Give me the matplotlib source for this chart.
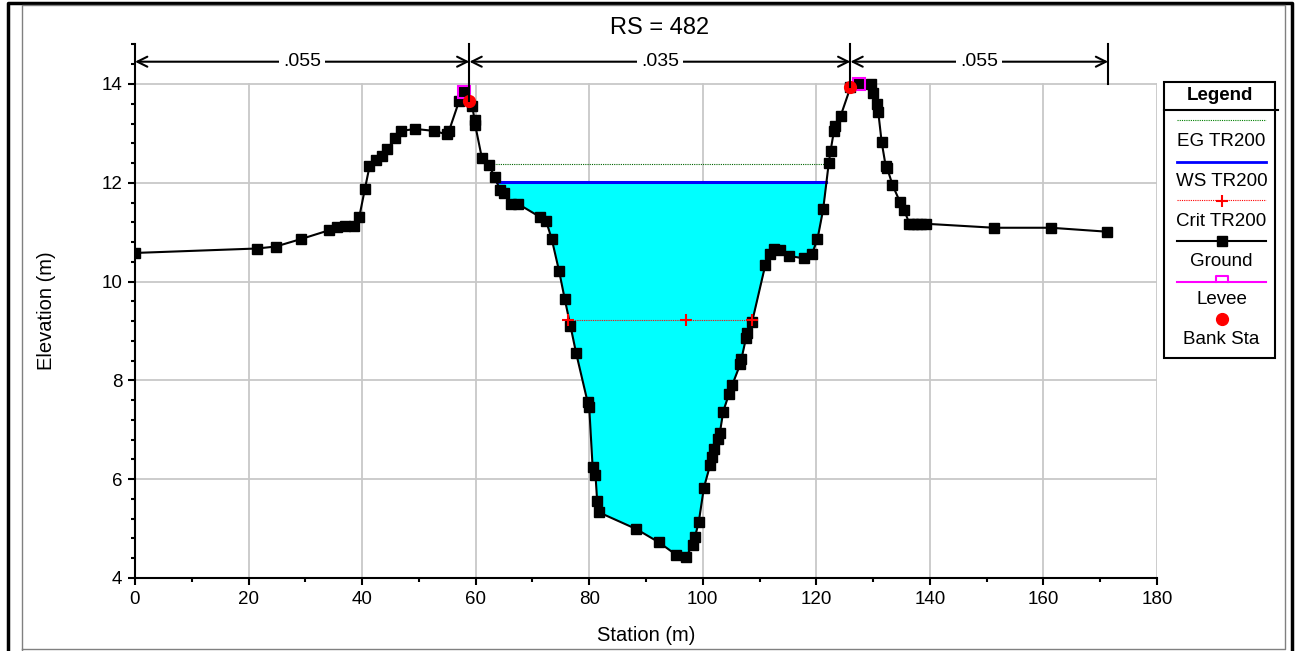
import numpy as np
import matplotlib
matplotlib.use("Agg")
import matplotlib.pyplot as plt
from matplotlib.ticker import MultipleLocator

plt.rcParams['font.family'] = ['Liberation Sans', 'DejaVu Sans']

# --- dados da seção (RS = 482) ---
estacao = [0.0, 21.5, 24.8, 29.2, 34.2, 35.5, 37.0, 38.6, 39.5, 40.5, 41.3, 42.4,
           43.5, 44.4, 45.8, 46.8, 49.4, 52.7, 54.9, 55.3, 57.1, 58.0, 59.4, 59.8,
           59.9, 61.1, 62.3, 63.4, 64.3, 65.0, 66.3, 67.5, 71.3, 72.4, 73.4, 74.7,
           75.7, 76.7, 77.7, 79.7, 80.0, 80.6, 81.1, 81.4, 81.7, 88.3, 92.3, 95.3,
           97.0, 98.3, 98.6, 99.3, 100.2, 101.3, 101.7, 102.0, 102.7, 103.0, 103.6,
           104.6, 105.2, 106.6, 106.8, 107.6, 107.8, 108.7, 111.0, 111.8, 112.6,
           113.6, 115.2, 117.8, 119.2, 120.2, 121.2, 122.2, 122.5, 123.1, 123.3,
           124.3, 126.0, 127.6, 129.6, 129.9, 130.6, 130.9, 131.5, 132.2, 132.5,
           133.4, 134.7, 135.5, 136.4, 137.0, 137.7, 138.5, 139.4, 151.3, 161.3, 171.2]
cota = [10.58, 10.67, 10.71, 10.86, 11.04, 11.10, 11.13, 11.13, 11.31, 11.88, 12.33, 12.46,
        12.54, 12.68, 12.90, 13.05, 13.09, 13.05, 12.98, 13.05, 13.66, 13.84, 13.55, 13.28,
        13.18, 12.50, 12.36, 12.11, 11.85, 11.80, 11.57, 11.57, 11.31, 11.23, 10.86, 10.21,
        9.64, 9.10, 8.55, 7.57, 7.46, 6.24, 6.09, 5.56, 5.33, 4.99, 4.72, 4.47,
        4.43, 4.67, 4.82, 5.14, 5.83, 6.29, 6.44, 6.61, 6.81, 6.93, 7.37,
        7.72, 7.91, 8.33, 8.43, 8.85, 8.95, 9.19, 10.33, 10.56, 10.67,
        10.64, 10.52, 10.47, 10.55, 10.86, 11.46, 12.41, 12.64, 13.05, 13.15,
        13.36, 13.93, 14.01, 14.00, 13.81, 13.60, 13.44, 12.83, 12.35, 12.29,
        11.96, 11.62, 11.44, 11.17, 11.17, 11.17, 11.17, 11.17, 11.09, 11.09, 11.01]

ws = 12.02          # WS TR200
eg = 12.39          # EG TR200
crit = 9.22         # Crit TR200
crit_est = [76.3, 97.0, 108.6]
dique_x = [58.0, 127.6]
dique_y = [13.84, 14.01]
margens = [58.9, 126.0]   # Bank Sta
manning_lim = [0.0, 58.9, 126.0, 171.4]
manning_n = ['.055', '.035', '.055']

estacao = np.array(estacao)
cota = np.array(cota)


def cruzamento(nivel, x0, x1):
    # acha onde o terreno cruza o nivel no canal principal
    m = (estacao >= x0) & (estacao <= x1)
    xs, zs = estacao[m], cota[m]
    pts = []
    for i in range(len(xs) - 1):
        if (zs[i] - nivel) * (zs[i + 1] - nivel) < 0:
            t = (nivel - zs[i]) / (zs[i + 1] - zs[i])
            pts.append(xs[i] + t * (xs[i + 1] - xs[i]))
    return pts[0], pts[-1]


fig = plt.figure(figsize=(12.96, 6.51), dpi=100)
ax = fig.add_axes([135 / 1296, 1 - 578 / 651, (1157 - 135) / 1296, (578 - 44) / 651])
ax.set_xlim(0, 180)
ax.set_ylim(4, 14 + 40 / 49.4)

# grade so ate 14 m
for gx in range(20, 181, 20):
    ax.plot([gx, gx], [4, 14], color='#c8c8c8', lw=1.3, zorder=0)
for gy in range(6, 15, 2):
    ax.plot([0, 180], [gy, gy], color='#c8c8c8', lw=1.3, zorder=0)

# agua
canal = (estacao >= 59) & (estacao <= 126)
ax.fill_between(estacao[canal], cota[canal], ws, where=cota[canal] <= ws,
                interpolate=True, color='#00ffff', lw=0, zorder=1)

a, b = cruzamento(eg, 59, 126)
ax.plot([a, b], [eg, eg], color='#006400', lw=0.8, ls=(0, (1, 1)), zorder=2)
a, b = cruzamento(ws, 59, 126)
ax.plot([a, b], [ws, ws], color='#0000ff', lw=2.2, zorder=3)
ax.plot([crit_est[0], crit_est[-1]], [crit, crit], color='red', lw=0.8, ls=(0, (1, 1)), zorder=3)
ax.plot(crit_est, [crit] * len(crit_est), ls='none', marker='+', color='red', ms=8, mew=1.5, zorder=6)

ax.plot(estacao, cota, color='black', lw=1.5, marker='s', ms=6.5, zorder=4)
ax.plot(dique_x, dique_y, ls='none', marker='s', ms=9, mfc='none', mec='#ff00ff', mew=1.5, zorder=5)
ax.plot(margens, np.interp(margens, estacao, cota), ls='none', marker='o', ms=8.5,
        color='red', zorder=6)

# Manning n no topo
ya = 14 + 22.3 / 49.4
topo = ax.get_ylim()[1]
for i, xl in enumerate(manning_lim):
    if i > 0:
        ax.plot([xl, xl], [topo, np.interp(xl, estacao, cota) if xl < 170 else 14.0],
                color='black', lw=1.5, zorder=6, clip_on=False)
for i in range(len(manning_n)):
    ax.annotate('', xy=(manning_lim[i], ya), xytext=(manning_lim[i + 1], ya),
                arrowprops=dict(arrowstyle='<->', color='black', lw=1.5,
                                shrinkA=0, shrinkB=0, mutation_scale=18))
    ax.text((manning_lim[i] + manning_lim[i + 1]) / 2, ya, manning_n[i], fontsize=14,
            ha='center', va='center', zorder=7,
            bbox=dict(facecolor='white', edgecolor='none', pad=3))

for s in ['top', 'right']:
    ax.spines[s].set_visible(False)
ax.spines['left'].set_linewidth(1.5)
ax.spines['bottom'].set_linewidth(1.5)
ax.xaxis.set_major_locator(MultipleLocator(20))
ax.xaxis.set_minor_locator(MultipleLocator(10))
ax.yaxis.set_major_locator(MultipleLocator(2))
ax.yaxis.set_minor_locator(MultipleLocator(0.4))
ax.set_yticks([4, 6, 8, 10, 12, 14])
ax.tick_params(which='major', direction='out', length=5, width=1.5, labelsize=13.5, pad=4)
ax.tick_params(which='minor', direction='out', length=3, width=1.5)
ax.set_xlabel('Station (m)', fontsize=14.5, labelpad=13)
ax.set_ylabel('Elevation (m)', fontsize=14.5, labelpad=33)

fig.text(660 / 1296, 1 - 28 / 651, 'RS = 482', fontsize=17, ha='center', va='center')

# camada de sobreposicao: moldura e legenda
ov = fig.add_axes([0, 0, 1, 1], zorder=10)
ov.set_xlim(0, 1296)
ov.set_ylim(651, 0)
ov.axis('off')
ov.patch.set_alpha(0)
ov.plot([8, 8, 1292, 1292], [651, 3, 3, 651], color='black', lw=2.5)
ov.plot([22, 22, 1285, 1285, 22], [651, 5, 5, 649, 649], color='#808080', lw=1)

ov.add_patch(plt.Rectangle((1164, 82), 111, 276, facecolor='white', edgecolor='black', lw=1.5))
ov.plot([1164, 1278], [110, 110], color='black', lw=1.5)
ov.text(1220, 96, 'Legend', fontsize=13.5, fontweight='bold', ha='center', va='center')
lx = [1177, 1266]
cx = sum(lx) / 2
ov.plot(lx, [120, 120], color='#008000', lw=0.8, ls=(0, (1, 1)))
ov.text(cx, 142, 'EG TR200', fontsize=13.5, ha='center', va='center')
ov.plot(lx, [162, 162], color='#0000ff', lw=2)
ov.text(cx, 181, 'WS TR200', fontsize=13.5, ha='center', va='center')
ov.plot(lx, [200, 200], color='red', lw=0.8, ls=(0, (1, 1)))
ov.plot([cx], [201], marker='+', color='red', ms=8, mew=1.5)
ov.text(cx, 221, 'Crit TR200', fontsize=13.5, ha='center', va='center')
ov.plot(lx, [241, 241], color='black', lw=1.5)
ov.plot([cx], [241], marker='s', color='black', ms=6.5)
ov.text(cx, 261, 'Ground', fontsize=13.5, ha='center', va='center')
ov.plot(lx, [282, 282], color='#ff00ff', lw=1.5)
ov.plot([cx - 6, cx - 6, cx + 6, cx + 6], [282, 276, 276, 282], color='#ff00ff', lw=1.5)
ov.text(cx, 300, 'Levee', fontsize=13.5, ha='center', va='center')
ov.plot([cx], [319], marker='o', color='red', ms=8.5)
ov.text(cx, 340, 'Bank Sta', fontsize=13.5, ha='center', va='center')

fig.savefig('out.png', dpi=100)
